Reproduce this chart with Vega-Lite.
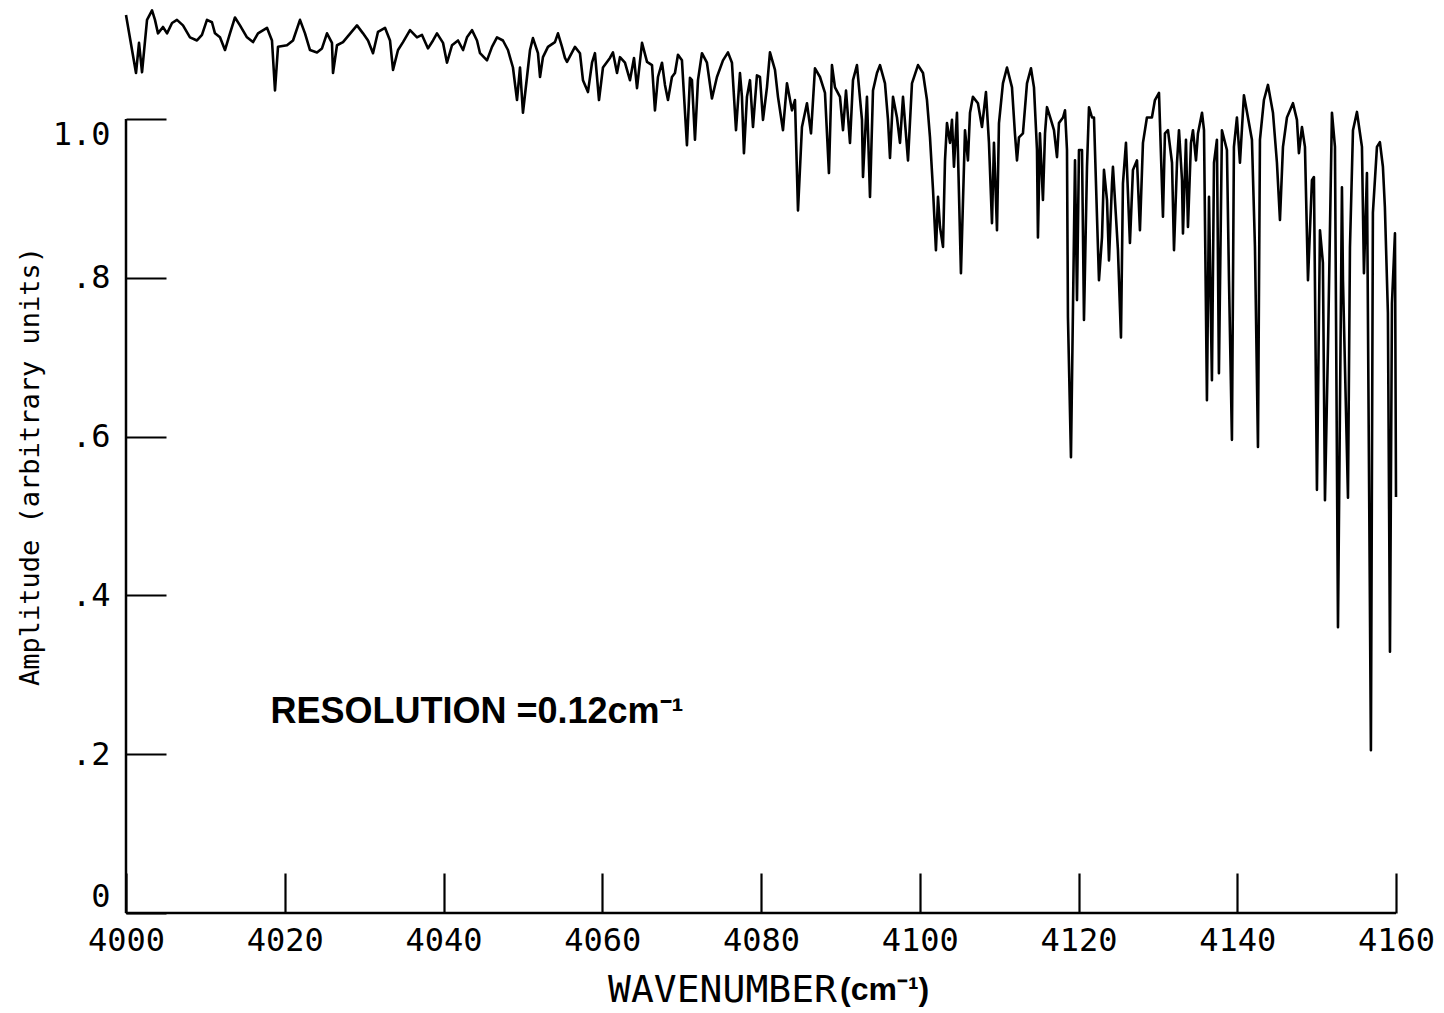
{
  "$schema": "https://vega.github.io/schema/vega-lite/v6.json",
  "width": 1270,
  "height": 913,
  "autosize": {"type": "none"},
  "padding": {"left": 126, "top": 0, "right": 48, "bottom": 100},
  "background": "white",
  "config": {"view": {"stroke": null}, "axis": {"grid": false}},
  "datasets": {
    "spectrum": [
      {"wavenumber": 4000.00, "amplitude": 1.131},
      {"wavenumber": 4001.26, "amplitude": 1.058},
      {"wavenumber": 4001.64, "amplitude": 1.096},
      {"wavenumber": 4002.02, "amplitude": 1.059},
      {"wavenumber": 4002.65, "amplitude": 1.125},
      {"wavenumber": 4003.28, "amplitude": 1.137},
      {"wavenumber": 4003.65, "amplitude": 1.125},
      {"wavenumber": 4004.03, "amplitude": 1.108},
      {"wavenumber": 4004.66, "amplitude": 1.116},
      {"wavenumber": 4005.17, "amplitude": 1.108},
      {"wavenumber": 4005.80, "amplitude": 1.121},
      {"wavenumber": 4006.42, "amplitude": 1.125},
      {"wavenumber": 4007.18, "amplitude": 1.118},
      {"wavenumber": 4008.06, "amplitude": 1.103},
      {"wavenumber": 4008.94, "amplitude": 1.099},
      {"wavenumber": 4009.57, "amplitude": 1.106},
      {"wavenumber": 4010.20, "amplitude": 1.125},
      {"wavenumber": 4010.83, "amplitude": 1.122},
      {"wavenumber": 4011.21, "amplitude": 1.108},
      {"wavenumber": 4011.84, "amplitude": 1.103},
      {"wavenumber": 4012.47, "amplitude": 1.087},
      {"wavenumber": 4013.10, "amplitude": 1.108},
      {"wavenumber": 4013.73, "amplitude": 1.128},
      {"wavenumber": 4014.36, "amplitude": 1.118},
      {"wavenumber": 4015.24, "amplitude": 1.103},
      {"wavenumber": 4016.00, "amplitude": 1.097},
      {"wavenumber": 4016.63, "amplitude": 1.108},
      {"wavenumber": 4017.76, "amplitude": 1.115},
      {"wavenumber": 4018.39, "amplitude": 1.099},
      {"wavenumber": 4018.77, "amplitude": 1.036},
      {"wavenumber": 4019.15, "amplitude": 1.091},
      {"wavenumber": 4020.28, "amplitude": 1.093},
      {"wavenumber": 4021.04, "amplitude": 1.099},
      {"wavenumber": 4021.92, "amplitude": 1.125},
      {"wavenumber": 4022.55, "amplitude": 1.108},
      {"wavenumber": 4023.18, "amplitude": 1.087},
      {"wavenumber": 4024.06, "amplitude": 1.084},
      {"wavenumber": 4024.69, "amplitude": 1.089},
      {"wavenumber": 4025.32, "amplitude": 1.108},
      {"wavenumber": 4025.95, "amplitude": 1.096},
      {"wavenumber": 4026.08, "amplitude": 1.058},
      {"wavenumber": 4026.58, "amplitude": 1.093},
      {"wavenumber": 4027.34, "amplitude": 1.097},
      {"wavenumber": 4028.60, "amplitude": 1.112},
      {"wavenumber": 4029.10, "amplitude": 1.118},
      {"wavenumber": 4029.86, "amplitude": 1.108},
      {"wavenumber": 4030.49, "amplitude": 1.099},
      {"wavenumber": 4031.12, "amplitude": 1.083},
      {"wavenumber": 4031.75, "amplitude": 1.110},
      {"wavenumber": 4032.63, "amplitude": 1.115},
      {"wavenumber": 4033.26, "amplitude": 1.099},
      {"wavenumber": 4033.64, "amplitude": 1.062},
      {"wavenumber": 4034.27, "amplitude": 1.087},
      {"wavenumber": 4034.90, "amplitude": 1.097},
      {"wavenumber": 4035.78, "amplitude": 1.112},
      {"wavenumber": 4036.66, "amplitude": 1.103},
      {"wavenumber": 4037.29, "amplitude": 1.106},
      {"wavenumber": 4038.05, "amplitude": 1.089},
      {"wavenumber": 4038.68, "amplitude": 1.099},
      {"wavenumber": 4039.18, "amplitude": 1.108},
      {"wavenumber": 4039.94, "amplitude": 1.096},
      {"wavenumber": 4040.44, "amplitude": 1.071},
      {"wavenumber": 4041.07, "amplitude": 1.093},
      {"wavenumber": 4041.83, "amplitude": 1.099},
      {"wavenumber": 4042.46, "amplitude": 1.087},
      {"wavenumber": 4042.96, "amplitude": 1.103},
      {"wavenumber": 4043.59, "amplitude": 1.112},
      {"wavenumber": 4044.22, "amplitude": 1.099},
      {"wavenumber": 4044.60, "amplitude": 1.083},
      {"wavenumber": 4045.48, "amplitude": 1.074},
      {"wavenumber": 4046.11, "amplitude": 1.091},
      {"wavenumber": 4046.74, "amplitude": 1.103},
      {"wavenumber": 4047.49, "amplitude": 1.099},
      {"wavenumber": 4048.12, "amplitude": 1.087},
      {"wavenumber": 4048.75, "amplitude": 1.065},
      {"wavenumber": 4049.26, "amplitude": 1.024},
      {"wavenumber": 4049.64, "amplitude": 1.065},
      {"wavenumber": 4050.01, "amplitude": 1.008},
      {"wavenumber": 4050.52, "amplitude": 1.053},
      {"wavenumber": 4050.90, "amplitude": 1.087},
      {"wavenumber": 4051.27, "amplitude": 1.102},
      {"wavenumber": 4051.90, "amplitude": 1.083},
      {"wavenumber": 4052.16, "amplitude": 1.053},
      {"wavenumber": 4052.53, "amplitude": 1.078},
      {"wavenumber": 4053.16, "amplitude": 1.091},
      {"wavenumber": 4054.04, "amplitude": 1.097},
      {"wavenumber": 4054.42, "amplitude": 1.108},
      {"wavenumber": 4054.93, "amplitude": 1.091},
      {"wavenumber": 4055.30, "amplitude": 1.077},
      {"wavenumber": 4055.56, "amplitude": 1.072},
      {"wavenumber": 4056.56, "amplitude": 1.091},
      {"wavenumber": 4057.19, "amplitude": 1.083},
      {"wavenumber": 4057.57, "amplitude": 1.049},
      {"wavenumber": 4058.20, "amplitude": 1.034},
      {"wavenumber": 4058.71, "amplitude": 1.071},
      {"wavenumber": 4059.08, "amplitude": 1.083},
      {"wavenumber": 4059.59, "amplitude": 1.024},
      {"wavenumber": 4060.09, "amplitude": 1.065},
      {"wavenumber": 4060.97, "amplitude": 1.077},
      {"wavenumber": 4061.35, "amplitude": 1.084},
      {"wavenumber": 4061.86, "amplitude": 1.058},
      {"wavenumber": 4062.23, "amplitude": 1.078},
      {"wavenumber": 4062.86, "amplitude": 1.071},
      {"wavenumber": 4063.49, "amplitude": 1.049},
      {"wavenumber": 4064.00, "amplitude": 1.077},
      {"wavenumber": 4064.38, "amplitude": 1.039},
      {"wavenumber": 4065.01, "amplitude": 1.096},
      {"wavenumber": 4065.64, "amplitude": 1.072},
      {"wavenumber": 4066.27, "amplitude": 1.068},
      {"wavenumber": 4066.64, "amplitude": 1.011},
      {"wavenumber": 4067.02, "amplitude": 1.053},
      {"wavenumber": 4067.53, "amplitude": 1.071},
      {"wavenumber": 4067.90, "amplitude": 1.043},
      {"wavenumber": 4068.28, "amplitude": 1.024},
      {"wavenumber": 4068.78, "amplitude": 1.053},
      {"wavenumber": 4069.16, "amplitude": 1.058},
      {"wavenumber": 4069.54, "amplitude": 1.081},
      {"wavenumber": 4070.04, "amplitude": 1.074},
      {"wavenumber": 4070.67, "amplitude": 0.967},
      {"wavenumber": 4071.05, "amplitude": 1.052},
      {"wavenumber": 4071.30, "amplitude": 1.049},
      {"wavenumber": 4071.68, "amplitude": 0.974},
      {"wavenumber": 4072.06, "amplitude": 1.049},
      {"wavenumber": 4072.56, "amplitude": 1.083},
      {"wavenumber": 4073.19, "amplitude": 1.071},
      {"wavenumber": 4073.82, "amplitude": 1.026},
      {"wavenumber": 4074.45, "amplitude": 1.053},
      {"wavenumber": 4075.21, "amplitude": 1.074},
      {"wavenumber": 4075.84, "amplitude": 1.084},
      {"wavenumber": 4076.34, "amplitude": 1.071},
      {"wavenumber": 4076.85, "amplitude": 0.986},
      {"wavenumber": 4077.35, "amplitude": 1.058},
      {"wavenumber": 4077.60, "amplitude": 1.028},
      {"wavenumber": 4077.85, "amplitude": 0.957},
      {"wavenumber": 4078.23, "amplitude": 1.028},
      {"wavenumber": 4078.61, "amplitude": 1.049},
      {"wavenumber": 4078.99, "amplitude": 0.990},
      {"wavenumber": 4079.49, "amplitude": 1.055},
      {"wavenumber": 4079.87, "amplitude": 1.053},
      {"wavenumber": 4080.25, "amplitude": 0.999},
      {"wavenumber": 4080.75, "amplitude": 1.040},
      {"wavenumber": 4081.13, "amplitude": 1.084},
      {"wavenumber": 4081.76, "amplitude": 1.062},
      {"wavenumber": 4082.14, "amplitude": 1.028},
      {"wavenumber": 4082.77, "amplitude": 0.986},
      {"wavenumber": 4083.27, "amplitude": 1.045},
      {"wavenumber": 4083.90, "amplitude": 1.011},
      {"wavenumber": 4084.28, "amplitude": 1.024},
      {"wavenumber": 4084.66, "amplitude": 0.885},
      {"wavenumber": 4085.16, "amplitude": 0.990},
      {"wavenumber": 4085.79, "amplitude": 1.020},
      {"wavenumber": 4086.30, "amplitude": 0.982},
      {"wavenumber": 4086.80, "amplitude": 1.064},
      {"wavenumber": 4087.43, "amplitude": 1.053},
      {"wavenumber": 4088.06, "amplitude": 1.033},
      {"wavenumber": 4088.56, "amplitude": 0.932},
      {"wavenumber": 4088.94, "amplitude": 1.068},
      {"wavenumber": 4089.32, "amplitude": 1.040},
      {"wavenumber": 4089.95, "amplitude": 1.028},
      {"wavenumber": 4090.33, "amplitude": 0.986},
      {"wavenumber": 4090.71, "amplitude": 1.036},
      {"wavenumber": 4091.21, "amplitude": 0.970},
      {"wavenumber": 4091.59, "amplitude": 1.049},
      {"wavenumber": 4092.09, "amplitude": 1.068},
      {"wavenumber": 4092.72, "amplitude": 0.999},
      {"wavenumber": 4092.85, "amplitude": 0.927},
      {"wavenumber": 4093.35, "amplitude": 1.028},
      {"wavenumber": 4093.73, "amplitude": 0.902},
      {"wavenumber": 4094.11, "amplitude": 1.036},
      {"wavenumber": 4094.61, "amplitude": 1.058},
      {"wavenumber": 4094.99, "amplitude": 1.068},
      {"wavenumber": 4095.62, "amplitude": 1.045},
      {"wavenumber": 4096.00, "amplitude": 0.999},
      {"wavenumber": 4096.25, "amplitude": 0.951},
      {"wavenumber": 4096.63, "amplitude": 1.028},
      {"wavenumber": 4097.13, "amplitude": 1.002},
      {"wavenumber": 4097.51, "amplitude": 0.970},
      {"wavenumber": 4097.89, "amplitude": 1.028},
      {"wavenumber": 4098.52, "amplitude": 0.948},
      {"wavenumber": 4099.02, "amplitude": 1.045},
      {"wavenumber": 4099.78, "amplitude": 1.068},
      {"wavenumber": 4100.41, "amplitude": 1.058},
      {"wavenumber": 4100.91, "amplitude": 1.024},
      {"wavenumber": 4101.29, "amplitude": 0.977},
      {"wavenumber": 4101.67, "amplitude": 0.911},
      {"wavenumber": 4102.04, "amplitude": 0.835},
      {"wavenumber": 4102.30, "amplitude": 0.902},
      {"wavenumber": 4102.55, "amplitude": 0.864},
      {"wavenumber": 4102.93, "amplitude": 0.839},
      {"wavenumber": 4103.18, "amplitude": 0.948},
      {"wavenumber": 4103.43, "amplitude": 0.995},
      {"wavenumber": 4103.81, "amplitude": 0.970},
      {"wavenumber": 4104.06, "amplitude": 0.999},
      {"wavenumber": 4104.31, "amplitude": 0.940},
      {"wavenumber": 4104.69, "amplitude": 1.008},
      {"wavenumber": 4105.19, "amplitude": 0.806},
      {"wavenumber": 4105.70, "amplitude": 0.986},
      {"wavenumber": 4106.07, "amplitude": 0.948},
      {"wavenumber": 4106.33, "amplitude": 1.008},
      {"wavenumber": 4106.70, "amplitude": 1.028},
      {"wavenumber": 4107.33, "amplitude": 1.020},
      {"wavenumber": 4107.84, "amplitude": 0.990},
      {"wavenumber": 4108.34, "amplitude": 1.034},
      {"wavenumber": 4108.72, "amplitude": 0.970},
      {"wavenumber": 4109.10, "amplitude": 0.869},
      {"wavenumber": 4109.35, "amplitude": 0.970},
      {"wavenumber": 4109.73, "amplitude": 0.860},
      {"wavenumber": 4109.98, "amplitude": 0.995},
      {"wavenumber": 4110.48, "amplitude": 1.045},
      {"wavenumber": 4110.99, "amplitude": 1.065},
      {"wavenumber": 4111.62, "amplitude": 1.040},
      {"wavenumber": 4111.99, "amplitude": 0.982},
      {"wavenumber": 4112.25, "amplitude": 0.948},
      {"wavenumber": 4112.50, "amplitude": 0.977},
      {"wavenumber": 4113.00, "amplitude": 0.982},
      {"wavenumber": 4113.51, "amplitude": 1.045},
      {"wavenumber": 4114.01, "amplitude": 1.064},
      {"wavenumber": 4114.39, "amplitude": 1.040},
      {"wavenumber": 4114.77, "amplitude": 0.961},
      {"wavenumber": 4114.89, "amplitude": 0.851},
      {"wavenumber": 4115.14, "amplitude": 0.982},
      {"wavenumber": 4115.52, "amplitude": 0.898},
      {"wavenumber": 4115.78, "amplitude": 0.982},
      {"wavenumber": 4116.03, "amplitude": 1.015},
      {"wavenumber": 4116.53, "amplitude": 0.999},
      {"wavenumber": 4116.91, "amplitude": 0.986},
      {"wavenumber": 4117.29, "amplitude": 0.952},
      {"wavenumber": 4117.54, "amplitude": 0.995},
      {"wavenumber": 4118.05, "amplitude": 1.002},
      {"wavenumber": 4118.30, "amplitude": 1.011},
      {"wavenumber": 4118.55, "amplitude": 0.961},
      {"wavenumber": 4118.67, "amplitude": 0.751},
      {"wavenumber": 4119.05, "amplitude": 0.574},
      {"wavenumber": 4119.30, "amplitude": 0.759},
      {"wavenumber": 4119.56, "amplitude": 0.948},
      {"wavenumber": 4119.81, "amplitude": 0.772},
      {"wavenumber": 4120.06, "amplitude": 0.961},
      {"wavenumber": 4120.44, "amplitude": 0.961},
      {"wavenumber": 4120.69, "amplitude": 0.747},
      {"wavenumber": 4121.07, "amplitude": 0.940},
      {"wavenumber": 4121.32, "amplitude": 1.015},
      {"wavenumber": 4121.70, "amplitude": 1.002},
      {"wavenumber": 4121.95, "amplitude": 1.002},
      {"wavenumber": 4122.33, "amplitude": 0.877},
      {"wavenumber": 4122.58, "amplitude": 0.797},
      {"wavenumber": 4122.96, "amplitude": 0.851},
      {"wavenumber": 4123.21, "amplitude": 0.936},
      {"wavenumber": 4123.59, "amplitude": 0.898},
      {"wavenumber": 4123.84, "amplitude": 0.822},
      {"wavenumber": 4124.22, "amplitude": 0.919},
      {"wavenumber": 4124.34, "amplitude": 0.940},
      {"wavenumber": 4124.72, "amplitude": 0.877},
      {"wavenumber": 4124.97, "amplitude": 0.835},
      {"wavenumber": 4125.35, "amplitude": 0.725},
      {"wavenumber": 4125.60, "amplitude": 0.919},
      {"wavenumber": 4125.98, "amplitude": 0.970},
      {"wavenumber": 4126.48, "amplitude": 0.844},
      {"wavenumber": 4126.86, "amplitude": 0.936},
      {"wavenumber": 4127.37, "amplitude": 0.948},
      {"wavenumber": 4127.74, "amplitude": 0.860},
      {"wavenumber": 4128.12, "amplitude": 0.970},
      {"wavenumber": 4128.62, "amplitude": 1.002},
      {"wavenumber": 4129.25, "amplitude": 1.002},
      {"wavenumber": 4129.63, "amplitude": 1.024},
      {"wavenumber": 4130.14, "amplitude": 1.033},
      {"wavenumber": 4130.64, "amplitude": 0.877},
      {"wavenumber": 4130.89, "amplitude": 0.982},
      {"wavenumber": 4131.27, "amplitude": 0.986},
      {"wavenumber": 4131.78, "amplitude": 0.945},
      {"wavenumber": 4132.03, "amplitude": 0.835},
      {"wavenumber": 4132.41, "amplitude": 0.945},
      {"wavenumber": 4132.66, "amplitude": 0.986},
      {"wavenumber": 4133.04, "amplitude": 0.923},
      {"wavenumber": 4133.16, "amplitude": 0.856},
      {"wavenumber": 4133.54, "amplitude": 0.974},
      {"wavenumber": 4133.79, "amplitude": 0.864},
      {"wavenumber": 4134.17, "amplitude": 0.970},
      {"wavenumber": 4134.42, "amplitude": 0.986},
      {"wavenumber": 4134.80, "amplitude": 0.948},
      {"wavenumber": 4135.05, "amplitude": 0.982},
      {"wavenumber": 4135.56, "amplitude": 1.008},
      {"wavenumber": 4135.81, "amplitude": 0.986},
      {"wavenumber": 4136.18, "amplitude": 0.646},
      {"wavenumber": 4136.44, "amplitude": 0.902},
      {"wavenumber": 4136.81, "amplitude": 0.671},
      {"wavenumber": 4137.07, "amplitude": 0.945},
      {"wavenumber": 4137.44, "amplitude": 0.974},
      {"wavenumber": 4137.69, "amplitude": 0.680},
      {"wavenumber": 4138.07, "amplitude": 0.986},
      {"wavenumber": 4138.70, "amplitude": 0.961},
      {"wavenumber": 4138.96, "amplitude": 0.797},
      {"wavenumber": 4139.33, "amplitude": 0.596},
      {"wavenumber": 4139.58, "amplitude": 0.965},
      {"wavenumber": 4139.96, "amplitude": 1.002},
      {"wavenumber": 4140.34, "amplitude": 0.945},
      {"wavenumber": 4140.84, "amplitude": 1.030},
      {"wavenumber": 4141.35, "amplitude": 1.002},
      {"wavenumber": 4141.85, "amplitude": 0.974},
      {"wavenumber": 4142.23, "amplitude": 0.839},
      {"wavenumber": 4142.61, "amplitude": 0.587},
      {"wavenumber": 4142.86, "amplitude": 0.974},
      {"wavenumber": 4143.36, "amplitude": 1.024},
      {"wavenumber": 4143.87, "amplitude": 1.043},
      {"wavenumber": 4144.50, "amplitude": 1.008},
      {"wavenumber": 4145.00, "amplitude": 0.945},
      {"wavenumber": 4145.38, "amplitude": 0.873},
      {"wavenumber": 4145.76, "amplitude": 0.965},
      {"wavenumber": 4146.26, "amplitude": 1.002},
      {"wavenumber": 4147.02, "amplitude": 1.020},
      {"wavenumber": 4147.52, "amplitude": 0.999},
      {"wavenumber": 4147.77, "amplitude": 0.957},
      {"wavenumber": 4148.15, "amplitude": 0.990},
      {"wavenumber": 4148.53, "amplitude": 0.965},
      {"wavenumber": 4148.91, "amplitude": 0.797},
      {"wavenumber": 4149.41, "amplitude": 0.923},
      {"wavenumber": 4149.66, "amplitude": 0.927},
      {"wavenumber": 4150.04, "amplitude": 0.533},
      {"wavenumber": 4150.42, "amplitude": 0.860},
      {"wavenumber": 4150.79, "amplitude": 0.819},
      {"wavenumber": 4151.05, "amplitude": 0.520},
      {"wavenumber": 4151.43, "amplitude": 0.713},
      {"wavenumber": 4151.93, "amplitude": 1.008},
      {"wavenumber": 4152.31, "amplitude": 0.965},
      {"wavenumber": 4152.69, "amplitude": 0.360},
      {"wavenumber": 4153.19, "amplitude": 0.914},
      {"wavenumber": 4153.32, "amplitude": 0.797},
      {"wavenumber": 4153.95, "amplitude": 0.523},
      {"wavenumber": 4154.20, "amplitude": 0.839},
      {"wavenumber": 4154.58, "amplitude": 0.986},
      {"wavenumber": 4155.08, "amplitude": 1.009},
      {"wavenumber": 4155.71, "amplitude": 0.965},
      {"wavenumber": 4155.96, "amplitude": 0.806},
      {"wavenumber": 4156.34, "amplitude": 0.932},
      {"wavenumber": 4156.84, "amplitude": 0.205},
      {"wavenumber": 4157.09, "amplitude": 0.882},
      {"wavenumber": 4157.60, "amplitude": 0.965},
      {"wavenumber": 4157.97, "amplitude": 0.971},
      {"wavenumber": 4158.35, "amplitude": 0.940},
      {"wavenumber": 4158.60, "amplitude": 0.889},
      {"wavenumber": 4158.98, "amplitude": 0.756},
      {"wavenumber": 4159.24, "amplitude": 0.329},
      {"wavenumber": 4159.49, "amplitude": 0.768},
      {"wavenumber": 4159.87, "amplitude": 0.856},
      {"wavenumber": 4160.00, "amplitude": 0.524}
    ]
  },
  "layer": [
    {
      "data": {"name": "spectrum"},
      "mark": {"type": "line", "color": "#000000", "strokeWidth": 2.6, "strokeJoin": "round"},
      "encoding": {
        "x": {
          "field": "wavenumber",
          "type": "quantitative",
          "scale": {"domain": [4000, 4160], "nice": false, "zero": false},
          "axis": {
            "values": [4000, 4020, 4040, 4060, 4080, 4100, 4120, 4140, 4160],
            "format": "d",
            "domain": false,
            "tickSize": -40,
            "tickWidth": 2.2,
            "tickColor": "#000000",
            "labelFont": "DejaVu Sans Mono",
            "labelFontSize": 32,
            "labelColor": "#000000",
            "labelPadding": 52,
            "labelFlush": false,
            "labelOverlap": false,
            "title": "WAVENUMBER",
            "titleFont": "DejaVu Sans Mono",
            "titleFontSize": 38,
            "titleFontWeight": "normal",
            "titleColor": "#000000",
            "titleX": 596,
            "titleY": 77,
            "titleAlign": "center",
            "titleBaseline": "middle"
          }
        },
        "y": {
          "field": "amplitude",
          "type": "quantitative",
          "scale": {"domain": [0, 1.15], "nice": false, "zero": true},
          "axis": {
            "values": [0, 0.2, 0.4, 0.6, 0.8, 1.0],
            "labelExpr": "datum.value == 0 ? '0' : (datum.value >= 1 ? '1.0' : '.' + format(datum.value * 10, 'd'))",
            "domain": false,
            "tickSize": -40,
            "tickWidth": 2.2,
            "tickColor": "#000000",
            "labelFont": "DejaVu Sans Mono",
            "labelFontSize": 32,
            "labelColor": "#000000",
            "labelPadding": 56,
            "labelBaseline": {
              "condition": [
                {"test": "datum.value == 0", "value": "bottom"},
                {"test": "datum.value >= 1", "value": "top"}
              ],
              "value": "middle"
            },
            "labelFlush": false,
            "labelOverlap": false,
            "title": "Amplitude (arbitrary units)",
            "titleFont": "DejaVu Sans Mono",
            "titleFontSize": 27,
            "titleFontWeight": "normal",
            "titleColor": "#000000",
            "titleAngle": -90,
            "titleX": -96,
            "titleY": 466,
            "titleAlign": "center",
            "titleBaseline": "middle"
          }
        }
      }
    },
    {
      "data": {"values": [{}]},
      "mark": {"type": "rule", "color": "#000000", "strokeWidth": 2.5},
      "encoding": {
        "x": {"datum": 4000, "type": "quantitative"},
        "y": {"datum": 0, "type": "quantitative"},
        "y2": {"datum": 1.0}
      }
    },
    {
      "data": {"values": [{}]},
      "mark": {"type": "rule", "color": "#000000", "strokeWidth": 2.5},
      "encoding": {
        "x": {"datum": 4000, "type": "quantitative"},
        "x2": {"datum": 4160},
        "y": {"datum": 0, "type": "quantitative"}
      }
    },
    {
      "data": {"values": [{}]},
      "mark": {"type": "text", "text": "RESOLUTION =0.12cm⁻¹", "font": "Liberation Sans", "fontWeight": "bold", "fontSize": 36, "align": "left", "baseline": "middle", "color": "#000000"},
      "encoding": {
        "x": {"datum": 4018.2, "type": "quantitative"},
        "y": {"datum": 0.2535, "type": "quantitative"}
      }
    },
    {
      "data": {"values": [{}]},
      "mark": {"type": "text", "text": "(cm⁻¹)", "font": "Liberation Sans", "fontWeight": "bold", "fontSize": 32, "align": "left", "baseline": "middle", "color": "#000000"},
      "encoding": {
        "x": {"datum": 4089.95, "type": "quantitative"},
        "y": {"datum": -0.097, "type": "quantitative"}
      }
    }
  ]
}
